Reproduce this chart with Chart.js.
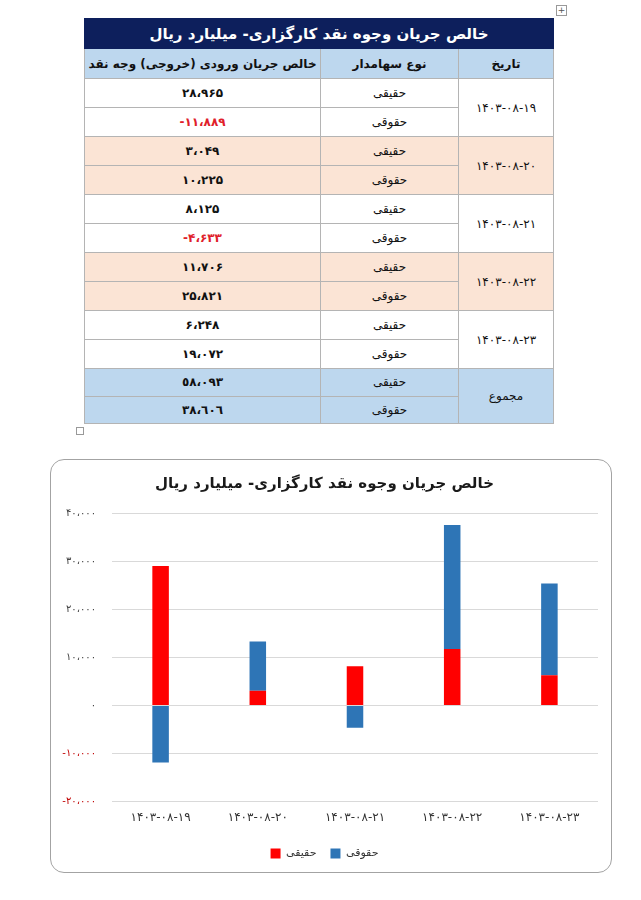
<!DOCTYPE html>
<html lang="fa">
<head>
<meta charset="utf-8">
<script src="https://cdn.jsdelivr.net/npm/chart.js@4.4.1/dist/chart.umd.min.js"></script>
<style>
  html,body{margin:0;padding:0;background:#fff;}
  body{width:641px;height:900px;position:relative;font-family:"DejaVu Sans","Noto Sans",sans-serif;}
  #tbl{position:absolute;left:84px;top:18px;width:469px;border-collapse:collapse;direction:rtl;table-layout:fixed;
       border:1.5px solid #1c1c3a;}
  #tbl td,#tbl th{border:1px solid #b4b4b4;text-align:center;vertical-align:middle;padding:0;color:#111;white-space:nowrap;}
  #tbl .ttl th{background:#0d1f5c;color:#fff;font-size:15px;font-weight:bold;height:29px;border:1px solid #0d1f5c;}
  #tbl .hdr th{background:#bdd7ee;font-size:12px;font-weight:bold;height:29px;}
  #tbl tr.r td{height:28px;font-size:12px;}
  #tbl tr.t td{height:26.5px;font-size:12px;background:#bdd7ee;}
  #tbl .pk td{background:#fbe4d5;}
  #tbl td.num{direction:ltr;font-weight:bold;font-size:12px;}
  #tbl td.neg{color:#e0202a;}
  #tbl td.dt{font-size:13px;direction:ltr;}
  #mv{position:absolute;left:556px;top:5px;width:9px;height:9px;border:1px solid #999;font-size:9px;line-height:9px;text-align:center;color:#555;}
  #sq{position:absolute;left:76px;top:427px;width:6px;height:6px;border:1px solid #999;}
  #box{position:absolute;left:50px;top:459px;width:562px;height:414px;box-sizing:border-box;border:1.5px solid #a3a3a3;border-radius:14px;}
  #wrap{position:absolute;left:0;top:0;right:0;bottom:0;}
</style>
</head>
<body>
<div id="mv">+</div>
<table id="tbl">
  <colgroup><col style="width:95px"><col style="width:138px"><col style="width:236px"></colgroup>
  <tbody id="tb"></tbody>
</table>
<div id="sq"></div>
<div id="box"><div id="wrap"><canvas id="c"></canvas></div></div>
<script>
// ---- data ----
const tableTitle = "خالص جریان وجوه نقد کارگزاری- میلیارد ریال";
const headers = ["تاریخ", "نوع سهامدار", "خالص جریان ورودی (خروجی) وجه نقد"];
const categories = ["۱۴۰۳-۰۸-۱۹", "۱۴۰۳-۰۸-۲۰", "۱۴۰۳-۰۸-۲۱", "۱۴۰۳-۰۸-۲۲", "۱۴۰۳-۰۸-۲۳"];
const seriesNames = ["حقیقی", "حقوقی"];
const haghighi = [28965, 3049, 8125, 11706, 6248];
const hoghooghi = [-11889, 10225, -4633, 25821, 19072];
const totalLabel = "مجموع";
const totalsText = ["٥٨،٠٩٣", "٣٨،٦٠٦"];
const yTicks = [-20000, -10000, 0, 10000, 20000, 30000, 40000];
const seriesColors = ["#ff0000", "#2e75b6"];

// ---- helpers ----
const faDigits = "۰۱۲۳۴۵۶۷۸۹";
function fa(n){
  const s = Math.abs(n).toString().replace(/\B(?=(\d{3})+(?!\d))/g, "،");
  return (n < 0 ? "-" : "") + s.replace(/\d/g, d => faDigits[d]);
}

// ---- table ----
const tb = document.getElementById("tb");
let html = `<tr class="ttl"><th colspan="3">${tableTitle}</th></tr>`;
html += `<tr class="hdr">${headers.map(h=>`<th>${h}</th>`).join("")}</tr>`;
categories.forEach((c,i)=>{
  const pk = (i % 2 === 1) ? " pk" : "";
  const v1 = haghighi[i], v2 = hoghooghi[i];
  html += `<tr class="r${pk}"><td class="dt" rowspan="2">${c}</td><td>${seriesNames[0]}</td><td class="num${v1<0?' neg':''}">${fa(v1)}</td></tr>`;
  html += `<tr class="r${pk}"><td>${seriesNames[1]}</td><td class="num${v2<0?' neg':''}">${fa(v2)}</td></tr>`;
});
html += `<tr class="t"><td rowspan="2">${totalLabel}</td><td>${seriesNames[0]}</td><td class="num">${totalsText[0]}</td></tr>`;
html += `<tr class="t"><td>${seriesNames[1]}</td><td class="num">${totalsText[1]}</td></tr>`;
tb.innerHTML = html;

// ---- chart ----
const FONT = "'DejaVu Sans','Noto Sans',sans-serif";
new Chart(document.getElementById("c"), {
  type: "bar",
  data: {
    labels: categories,
    datasets: [
      {label: seriesNames[0], data: haghighi, backgroundColor: seriesColors[0], categoryPercentage: 1, barPercentage: 0.17},
      {label: seriesNames[1], data: hoghooghi, backgroundColor: seriesColors[1], categoryPercentage: 1, barPercentage: 0.17}
    ]
  },
  options: {
    responsive: true,
    maintainAspectRatio: false,
    animation: false,
    layout: {padding: {left: 0, right: 13, top: 0, bottom: 3}},
    plugins: {
      title: {display: true, text: tableTitle, color: "#1a1a1a",
              font: {family: FONT, size: 15, weight: "bold"}, padding: {top: 15, bottom: 20}},
      legend: {position: "bottom",
               labels: {boxWidth: 10, boxHeight: 10, color: "#333", padding: 14,
                        font: {family: FONT, size: 11}}},
      tooltip: {enabled: false}
    },
    scales: {
      x: {stacked: true,
          grid: {display: false, drawTicks: false},
          border: {display: false},
          ticks: {color: "#333", padding: 9, font: {family: FONT, size: 12}}},
      y: {stacked: true, min: yTicks[0], max: yTicks[yTicks.length-1],
          afterBuildTicks: s => { s.ticks = yTicks.map(v => ({value: v})); },
          afterFit: s => { s.width = 61; },
          grid: {color: "#d9d9d9", lineWidth: 1, drawTicks: false},
          border: {display: false},
          ticks: {padding: 16, font: {family: FONT, size: 10},
                  color: c => (c.tick && c.tick.value < 0) ? "#c00000" : "#404040",
                  callback: v => fa(v)}}
    }
  }
});
</script>
</body>
</html>
